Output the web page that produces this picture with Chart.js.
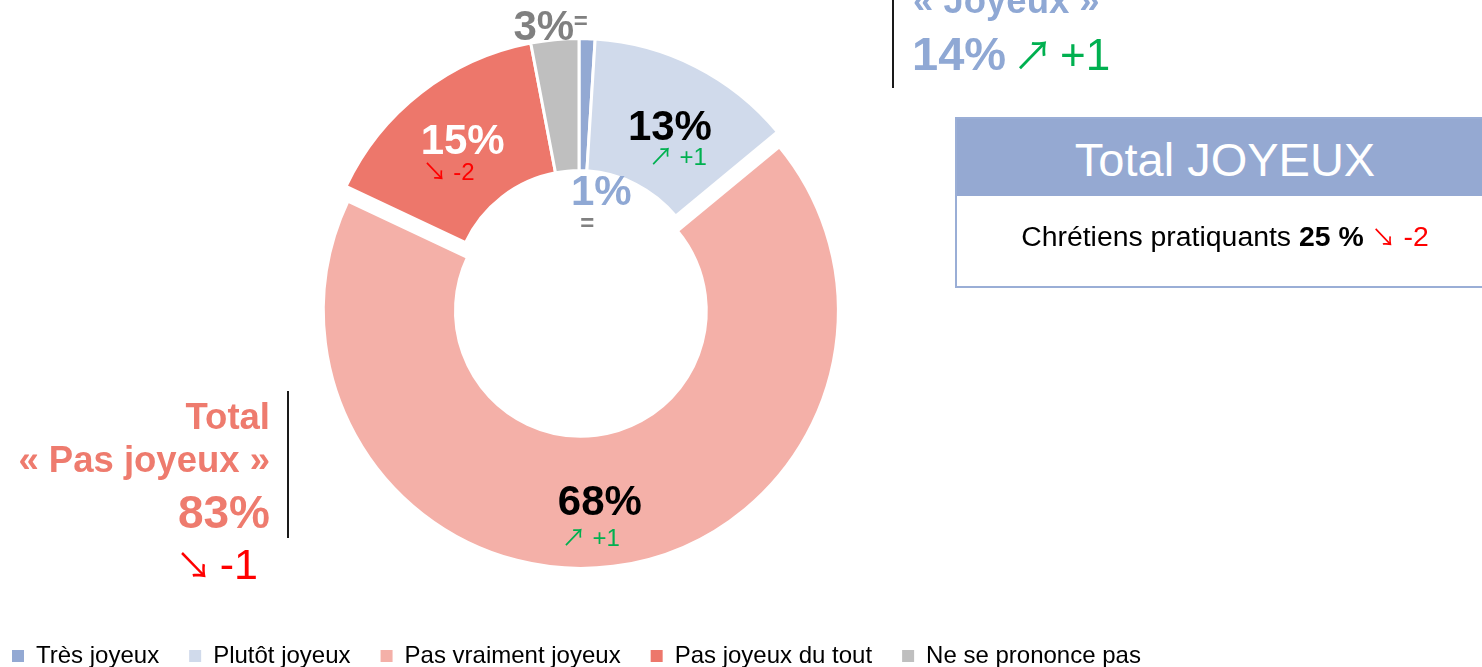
<!DOCTYPE html>
<html lang="fr">
<head>
<meta charset="utf-8">
<script src="https://cdn.jsdelivr.net/npm/chart.js@4.4.0/dist/chart.umd.min.js"></script>
<style>
  html, body { margin: 0; padding: 0; background: #fff; }
  body { width: 1482px; height: 667px; position: relative; overflow: hidden;
         font-family: "Liberation Sans", Arial, sans-serif; }
  #wrap { position: absolute; left: -18px; top: -22px; width: 1500px; height: 700px; }
  .abs { position: absolute; line-height: 1; white-space: nowrap; }
  .arrow { font-family: "Noto Sans CJK JP", "DejaVu Sans", sans-serif; font-weight: normal; }
  .vline { position: absolute; width: 2px; background: #1a1a1a; }
  .joy { color: #8FA8D4; font-weight: bold; }
  .pasjoy { color: #EE7B6E; font-weight: bold; }
  .up { color: #00B050; font-weight: normal; }
  .down { color: #FF0000; font-weight: normal; }
  #box { position: absolute; left: 955px; top: 117px; width: 540px; height: 171px;
         border: 2px solid #9AAED6; box-sizing: border-box; }
  #boxHead { position: absolute; left: 0; top: 0; right: 0; height: 77px; background: #95A9D2; }
</style>
</head>
<body>
<div id="wrap"><canvas id="myChart" width="1500" height="700"></canvas></div>

<!-- bloc "Joyeux" en haut à droite -->
<div class="vline" style="left:892px; top:0; height:88px;"></div>
<div class="abs joy" style="left:913px; top:-17px; font-size:36.5px;">« Joyeux »</div>
<div class="abs joy" id="totJoy" style="left:912px; top:30px; font-size:47px;"></div>

<!-- bloc "Pas joyeux" en bas à gauche -->
<div class="vline" style="left:287px; top:391px; height:147px;"></div>
<div class="abs pasjoy" style="left:0; width:270px; text-align:right; top:399px; font-size:36.5px;">Total</div>
<div class="abs pasjoy" style="left:0; width:270px; text-align:right; top:442px; font-size:36.5px;">« Pas joyeux »</div>
<div class="abs pasjoy" id="totPas" style="left:0; width:270px; text-align:right; top:489px; font-size:46px;"></div>
<div class="abs" id="totPasEvo" style="left:0; width:258px; text-align:right; top:543px; font-size:43px;"></div>

<!-- encadré Total JOYEUX -->
<div id="box">
  <div id="boxHead">
    <div class="abs" style="left:0; right:0; top:17px; text-align:center; color:#fff; font-size:47px;">Total JOYEUX</div>
  </div>
  <div class="abs" id="chretiens" style="left:0; right:0; top:103px; text-align:center; font-size:28.4px; color:#000;"></div>
</div>

<script>
const ctx = document.getElementById('myChart');

// Données
const categories = ['Très joyeux', 'Plutôt joyeux', 'Pas vraiment joyeux', 'Pas joyeux du tout', 'Ne se prononce pas'];
const values = [1, 13, 68, 15, 3];
const evolutions = [0, 1, 1, -2, 0];
const chretiensLabel = 'Chrétiens pratiquants';
const chretiensValue = 25;
const chretiensEvolution = -2;

const colors = ['#93A9D3', '#D0DAEB', '#F4B0A8', '#ED776B', '#BFBFBF'];

// style des étiquettes (position relative au segment)
const labelStyle = [
  {r: 103, dx: 19, dy: 0, color: '#8FA8D4', cdx: -14, cdy: 31},
  {dx: 4, dy: 3, color: '#000000', cdx: 8, cdy: 30},
  {dx: -5, dy: 3, color: '#000000', cdx: -9, cdy: 36},
  {dx: 1, dy: -2, color: '#FFFFFF', cdx: -14, cdy: 31},
  {r: 268, dx: -10, dy: -1, color: '#808080', cdx: 37, cdy: -6}
];
const explode = [0, 0, 15, 0, 0];

function evoText(v) {
  if (v > 0) return {txt: '↗ +' + v, color: '#00B050', bold: false};
  if (v < 0) return {txt: '↘ ' + v, color: '#FF0000', bold: false};
  return {txt: '=', color: '#808080', bold: true};
}
function evoHtml(v, arrowSize, gap) {
  const cls = v > 0 ? 'up' : 'down';
  const arrow = v > 0 ? '↗' : '↘';
  if (v === 0) return '<span style="color:#808080">=</span>';
  return '<span class="' + cls + '"><span class="arrow" style="font-size:' + arrowSize + 'px">' + arrow +
    '</span><span style="margin-left:' + gap + 'px">' + (v > 0 ? '+' + v : v) + '</span></span>';
}

/* Décale le segment "Pas vraiment joyeux" vers l'extérieur */
const explodePlugin = {
  id: 'explode',
  afterDatasetsUpdate(chart) {
    chart.getDatasetMeta(0).data.forEach((arc, i) => {
      if (!explode[i]) return;
      const mid = (arc.startAngle + arc.endAngle) / 2;
      arc.x += Math.cos(mid) * explode[i];
      arc.y += Math.sin(mid) * explode[i];
    });
  }
};

/* Etiquettes : pourcentage + évolution */
const labelsPlugin = {
  id: 'sliceLabels',
  afterDatasetsDraw(chart) {
    const c = chart.ctx;
    chart.getDatasetMeta(0).data.forEach((arc, i) => {
      const s = labelStyle[i];
      const mid = (arc.startAngle + arc.endAngle) / 2;
      const r = s.r !== undefined ? s.r : (arc.innerRadius + arc.outerRadius) / 2;
      const x = arc.x + Math.cos(mid) * r + s.dx;
      const y = arc.y + Math.sin(mid) * r + s.dy;
      c.save();
      c.textAlign = 'center';
      c.textBaseline = 'middle';
      c.fillStyle = s.color;
      c.font = 'bold 42px "Liberation Sans", Arial, sans-serif';
      c.fillText(values[i] + '%', x, y);
      const e = evoText(evolutions[i]);
      c.fillStyle = e.color;
      c.font = (e.bold ? 'bold ' : '') + '24px "Liberation Sans", Arial, "Noto Sans CJK JP", sans-serif';
      c.fillText(e.txt, x + s.cdx, y + s.cdy);
      c.restore();
    });
  }
};

const myChart = new Chart(ctx, {
  type: 'doughnut',
  data: {
    labels: categories,
    datasets: [{
      data: values,
      backgroundColor: colors,
      borderColor: '#ffffff',
      borderWidth: 3
    }]
  },
  options: {
    responsive: false,
    animation: false,
    radius: 257.5,
    cutout: '48.7%',
    layout: { padding: { left: 0, right: 306, top: 0, bottom: 0 } },
    plugins: {
      tooltip: { enabled: false },
      legend: {
        position: 'bottom',
        align: 'start',
        labels: {
          boxWidth: 12,
          boxHeight: 12,
          padding: 30,
          color: '#000',
          font: { family: '"Liberation Sans", Arial, sans-serif', size: 24 },
          generateLabels: chart => Chart.overrides.doughnut.plugins.legend.labels.generateLabels(chart)
            .map(l => Object.assign(l, { lineWidth: 0, strokeStyle: 'rgba(0,0,0,0)' }))
        }
      }
    }
  },
  plugins: [explodePlugin, labelsPlugin]
});

// Totaux
const totJoy = values[0] + values[1];
const evoJoy = evolutions[0] + evolutions[1];
const totPas = values[2] + values[3];
const evoPas = evolutions[2] + evolutions[3];
document.getElementById('totJoy').innerHTML = totJoy + '%<span style="margin-left:7px"></span>' +
  '<span style="font-size:44px">' + evoHtml(evoJoy, 40, 7) + '</span>';
document.getElementById('totPas').textContent = totPas + '%';
document.getElementById('totPasEvo').innerHTML = evoHtml(evoPas, 36, 8);
document.getElementById('chretiens').innerHTML = chretiensLabel + ' <b>' + chretiensValue + ' %</b> ' + evoHtml(chretiensEvolution, 24, 8);
</script>
</body>
</html>
